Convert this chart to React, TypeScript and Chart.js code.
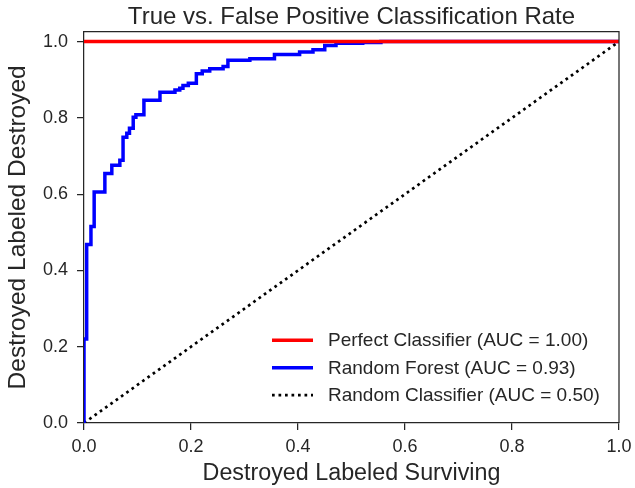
import React, { useEffect, useRef } from "react";
import { Chart, registerables } from "chart.js";

Chart.register(...registerables);

const titleText = "True vs. False Positive Classification Rate";
const xLabel = "Destroyed Labeled Surviving";
const yLabel = "Destroyed Labeled Destroyed";

const perfectLabel = "Perfect Classifier (AUC = 1.00)";
const perfectFpr = [0, 1];
const perfectTpr = [1, 1];

const rfLabel = "Random Forest (AUC = 0.93)";
const rfFpr = [0, 0, 0.005, 0.013, 0.019, 0.039, 0.052, 0.067, 0.073, 0.08, 0.085, 0.092, 0.097, 0.112, 0.142, 0.17, 0.179, 0.185, 0.195, 0.21, 0.221, 0.235, 0.26, 0.269, 0.31, 0.356, 0.403, 0.428, 0.45, 0.471, 0.521, 0.555, 1];
const rfTpr = [0, 0.22, 0.468, 0.515, 0.606, 0.654, 0.676, 0.689, 0.749, 0.76, 0.773, 0.802, 0.808, 0.846, 0.867, 0.873, 0.878, 0.885, 0.891, 0.916, 0.923, 0.929, 0.935, 0.951, 0.955, 0.966, 0.973, 0.979, 0.99, 0.996, 0.998, 1, 1];

const randomLabel = "Random Classifier (AUC = 0.50)";
const randomFpr = [0, 1];
const randomTpr = [0, 1];

const xTickValues = [0, 0.2, 0.4, 0.6, 0.8, 1.0];
const yTickValues = [0, 0.2, 0.4, 0.6, 0.8, 1.0];

const FONT = "'Liberation Sans', Arial, Helvetica, sans-serif";
const TEXT = "#262626";
const AXIS = "#262626";

const toPoints = (xs: number[], ys: number[]) => xs.map((x, i) => ({ x, y: ys[i] }));

const frameTitleLegend = {
  id: "frameTitleLegend",
  afterDatasetsDraw(chart: any) {
    const { ctx, chartArea } = chart;
    const { left, right, top, bottom } = chartArea;
    ctx.save();
    // top and right spines
    ctx.strokeStyle = AXIS;
    ctx.lineWidth = 1.25;
    ctx.beginPath();
    ctx.moveTo(left, top);
    ctx.lineTo(right, top);
    ctx.lineTo(right, bottom);
    ctx.stroke();

    // title centred on the plot area
    ctx.fillStyle = TEXT;
    ctx.font = `24px ${FONT}`;
    ctx.textAlign = "center";
    ctx.textBaseline = "alphabetic";
    ctx.fillText(titleText, (left + right) / 2, top - 7.7);

    // legend
    const lineX0 = left + 188;
    const lineX1 = left + 229;
    const textX = left + 244;
    const rowY0 = top + 308.5;
    const rowGap = 27.5;
    ctx.font = `19px ${FONT}`;
    ctx.textBaseline = "middle";
    ctx.textAlign = "left";
    chart.data.datasets.forEach((ds: any, i: number) => {
      const y = rowY0 + i * rowGap;
      ctx.beginPath();
      ctx.strokeStyle = ds.borderColor;
      ctx.lineWidth = ds.borderWidth;
      ctx.setLineDash(ds.borderDash || []);
      ctx.lineCap = "butt";
      ctx.moveTo(lineX0, y);
      ctx.lineTo(lineX1, y);
      ctx.stroke();
      ctx.setLineDash([]);
      ctx.fillStyle = TEXT;
      ctx.fillText(ds.label, textX, y + 1);
    });
    ctx.restore();
  },
};

export default function App() {
  const canvasRef = useRef<HTMLCanvasElement | null>(null);

  useEffect(() => {
    if (!canvasRef.current) return;
    const chart = new Chart(canvasRef.current, {
      type: "line",
      data: {
        datasets: [
          {
            label: perfectLabel,
            data: toPoints(perfectFpr, perfectTpr),
            borderColor: "#ff0000",
            borderWidth: 3.5,
            pointRadius: 0,
            fill: false,
            clip: 0,
          },
          {
            label: rfLabel,
            data: toPoints(rfFpr, rfTpr),
            borderColor: "#0000ff",
            borderWidth: 3.5,
            pointRadius: 0,
            fill: false,
            stepped: "before",
            clip: 0,
          },
          {
            label: randomLabel,
            data: toPoints(randomFpr, randomTpr),
            borderColor: "#000000",
            borderWidth: 2.7,
            borderDash: [2.7, 3.8],
            pointRadius: 0,
            fill: false,
            clip: 0,
          },
        ] as any,
      },
      options: {
        animation: false,
        responsive: false,
        maintainAspectRatio: false,
        layout: { padding: { left: 0, right: 16, top: 31.7, bottom: 0 } },
        plugins: {
          legend: { display: false },
          tooltip: { enabled: false },
          title: { display: false },
        },
        scales: {
          x: {
            type: "linear",
            min: 0,
            max: 1,
            afterBuildTicks: (scale: any) => {
              scale.ticks = xTickValues.map((v) => ({ value: v }));
            },
            afterFit: (scale: any) => {
              scale.height = 65;
              scale.paddingLeft = 0;
              scale.paddingRight = 0;
            },
            ticks: {
              color: TEXT,
              font: { family: FONT, size: 18 },
              padding: 6,
              maxRotation: 0,
              callback: (v: any) => Number(v).toFixed(1),
            },
            grid: {
              display: true,
              drawOnChartArea: false,
              drawTicks: true,
              tickLength: 7,
              color: AXIS,
              lineWidth: 1.25,
            },
            border: { display: true, color: AXIS, width: 1.25 },
            title: {
              display: true,
              text: xLabel,
              color: TEXT,
              font: { family: FONT, size: 23.3 },
              padding: { top: 0, bottom: 0 },
            },
          },
          y: {
            type: "linear",
            min: 0,
            max: 1.026,
            afterBuildTicks: (scale: any) => {
              scale.ticks = yTickValues.map((v) => ({ value: v }));
            },
            afterFit: (scale: any) => {
              scale.width = 84;
              scale.paddingTop = 0;
              scale.paddingBottom = 0;
            },
            ticks: {
              color: TEXT,
              font: { family: FONT, size: 18 },
              padding: 9,
              callback: (v: any) => Number(v).toFixed(1),
            },
            grid: {
              display: true,
              drawOnChartArea: false,
              drawTicks: true,
              tickLength: 7,
              color: AXIS,
              lineWidth: 1.25,
            },
            border: { display: true, color: AXIS, width: 1.25 },
            title: {
              display: true,
              text: yLabel,
              color: TEXT,
              font: { family: FONT, size: 24.5 },
              padding: { top: 4, bottom: 0 },
            },
          },
        },
      } as any,
      plugins: [frameTitleLegend],
    });
    return () => chart.destroy();
  }, []);

  return (
    <div style={{ position: "absolute", left: 0, top: 0, width: 635, height: 488, background: "#fff" }}>
      <canvas ref={canvasRef} width={635} height={488} style={{ display: "block", width: 635, height: 488 }} />
    </div>
  );
}
